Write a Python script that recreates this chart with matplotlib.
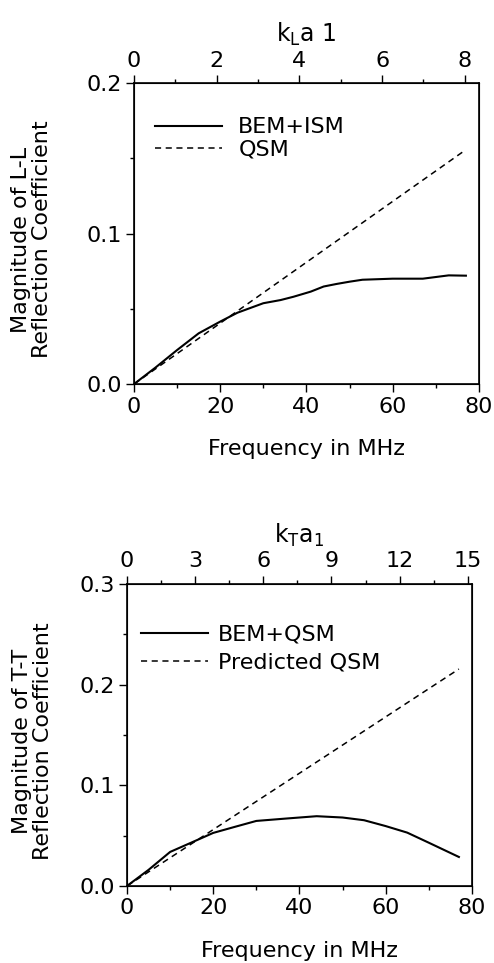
import matplotlib
matplotlib.use("Agg")
import matplotlib.pyplot as plt
from matplotlib.ticker import MultipleLocator

plt.rcParams['font.family'] = ['DejaVu Sans']

# top panel: L-L reflection coefficient
ll_freq = [0, 5, 10, 15, 20, 24, 30, 34, 37, 41, 44, 47, 50, 53, 60, 67, 73, 77]
ll_bem = [0, 0.011, 0.0226, 0.0337, 0.0415, 0.0474, 0.0537, 0.0558, 0.058, 0.0614,
          0.0648, 0.0665, 0.068, 0.0693, 0.070, 0.070, 0.0722, 0.072]
ll_qsm_freq = [0, 77]
ll_qsm = [0, 0.1557]

# bottom panel: T-T reflection coefficient
tt_freq = [0, 5, 10, 17, 20, 25, 30, 37, 44, 50, 55, 60, 65, 70, 77]
tt_bem = [0, 0.016, 0.0338, 0.047, 0.0527, 0.0587, 0.0646, 0.067, 0.0693,
          0.068, 0.0653, 0.0595, 0.0530, 0.0430, 0.0288]
tt_qsm_freq = [0, 77]
tt_qsm = [0, 0.2155]

fs = 16

fig = plt.figure(figsize=(4.94, 9.63), dpi=100)


def style(ax, ymax, ymajor, top_max, top_major, top_minor, top_label, ylabel, ylab_x):
    ax.set_xlim(0, 80)
    ax.set_ylim(0, ymax)
    ax.xaxis.set_major_locator(MultipleLocator(20))
    ax.xaxis.set_minor_locator(MultipleLocator(10))
    ax.yaxis.set_major_locator(MultipleLocator(ymajor))
    ax.yaxis.set_minor_locator(MultipleLocator(ymajor / 2))
    ax.yaxis.set_major_formatter(plt.FormatStrFormatter('%.1f'))
    ax.tick_params(which='major', direction='out', length=6, width=1, labelsize=fs, pad=3)
    ax.tick_params(which='minor', direction='out', length=3, width=1)
    ax.set_xlabel('Frequency in MHz', fontsize=fs, labelpad=16)
    ax.set_ylabel(ylabel, fontsize=fs, linespacing=1.05)
    ax.yaxis.set_label_coords(ylab_x, 0.48)
    for s in ax.spines.values():
        s.set_linewidth(1.2)

    top = ax.twiny()
    top.set_xlim(0, top_max)
    top.xaxis.set_major_locator(MultipleLocator(top_major))
    top.xaxis.set_minor_locator(MultipleLocator(top_minor))
    top.tick_params(which='major', direction='out', length=6, width=1, labelsize=fs, pad=3)
    top.tick_params(which='minor', direction='out', length=3, width=1)
    top.set_xlabel(top_label, fontsize=fs + 1, labelpad=6)
    return top


ax1 = fig.add_axes([0.2713, 0.6012, 0.698, 0.3126])
ax1.plot(ll_freq, ll_bem, '-', color='black', lw=1.5, label='BEM+ISM')
ax1.plot(ll_qsm_freq, ll_qsm, '--', color='black', lw=1.1, dashes=(4, 3), label='QSM')
style(ax1, 0.2, 0.1, 8 * 345 / 331, 2, 1, r'$\mathregular{k_L a\ 1}$',
      'Magnitude of L-L\nReflection Coefficient', -0.238)
ax1.legend(loc='upper left', bbox_to_anchor=(0.035, 0.915), frameon=False,
           fontsize=fs, handlelength=3.0, handletextpad=0.75, labelspacing=0.1,
           borderaxespad=0)

ax2 = fig.add_axes([0.2571, 0.080, 0.698, 0.3136])
ax2.plot(tt_freq, tt_bem, '-', color='black', lw=1.5, label='BEM+QSM')
ax2.plot(tt_qsm_freq, tt_qsm, '--', color='black', lw=1.1, dashes=(4, 3), label='Predicted QSM')
style(ax2, 0.3, 0.1, 15 * 345 / 341, 3, 1.5, r'$\mathregular{k_T a_1}$',
      'Magnitude of T-T\nReflection Coefficient', -0.214)
ax2.legend(loc='upper left', bbox_to_anchor=(0.015, 0.895), frameon=False,
           fontsize=fs, handlelength=3.0, handletextpad=0.45, labelspacing=0.35,
           borderaxespad=0)

fig.savefig('out.png', dpi=100)
